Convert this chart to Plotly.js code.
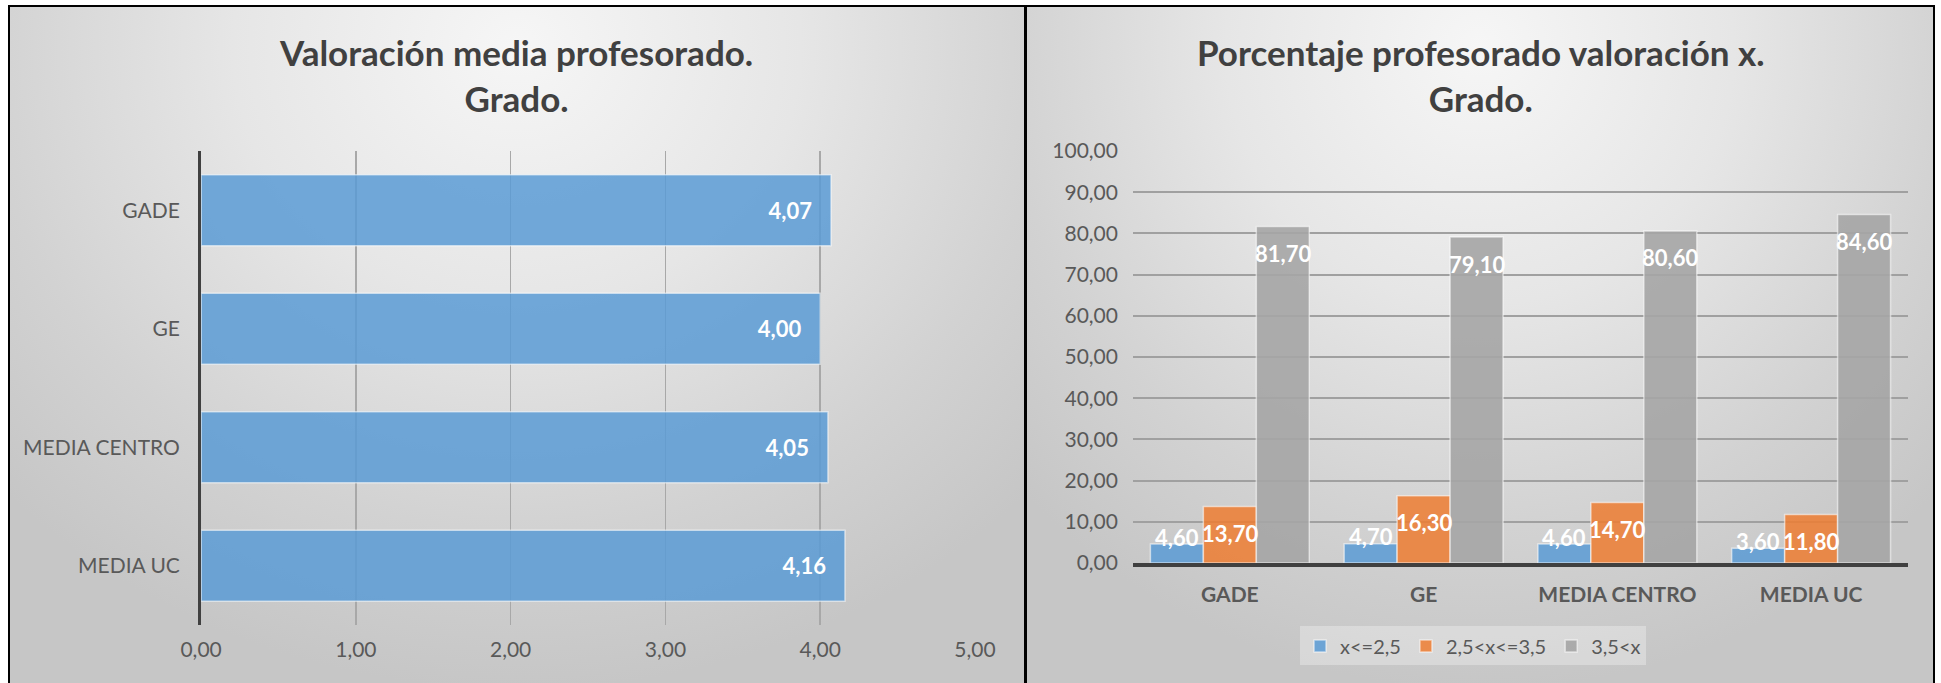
<!DOCTYPE html>
<html>
<head>
<meta charset="utf-8">
<script src="https://cdn.plot.ly/plotly-3.0.1.min.js"></script>
<style>
  html, body { margin: 0; padding: 0; background: #ffffff; }
  #frame { position: absolute; left: 8px; top: 5px; width: 1927px; height: 678px; background: #000; }
  .panel { position: absolute; top: 7px; height: 676px;
    background: radial-gradient(ellipse 70% 95% at 50% 6%, #f6f6f6 0%, #e6e6e6 40%, #d2d2d2 75%, #c6c6c6 100%); }
  #pl { left: 10px; width: 1014px; }
  #pr { left: 1027px; width: 906px; }
  #chart { position: absolute; left: 0; top: 0; width: 1941px; height: 683px; }
</style>
</head>
<body>
<div id="frame"></div>
<div class="panel" id="pl"></div>
<div class="panel" id="pr"></div>
<div id="chart"></div>
<script>
// ---- data ----
const categories = ["GADE", "GE", "MEDIA CENTRO", "MEDIA UC"];
const mediaValues = [4.07, 4.00, 4.05, 4.16];
const seriesNames = ["x<=2,5", "2,5<x<=3,5", "3,5<x"];
const pctLow = [4.60, 4.70, 4.60, 3.60];
const pctMid = [13.70, 16.30, 14.70, 11.80];
const pctHigh = [81.70, 79.10, 80.60, 84.60];
const leftTitle = "Valoración media profesorado.<br>Grado.";
const rightTitle = "Porcentaje profesorado valoración x.<br>Grado.";

const FONT = "Lato, 'Open Sans', sans-serif";
const NB = "\u00a0";
const blue = "rgba(91,155,213,0.85)";
const orange = "rgba(237,125,49,0.85)";
const gray = "rgba(165,165,165,0.9)";
const barLine = { color: "rgba(255,255,255,0.55)", width: 1.5 };
const W = 1941, H = 683;
const x2Domain = [0.5837, 0.983];
const BARGAP = 0.18;

const traces = [
  {
    type: "bar", orientation: "h", y: categories, x: mediaValues,
    xaxis: "x", yaxis: "y", width: 0.6, showlegend: false,
    marker: { color: blue, line: barLine },
    texttemplate: "%{x:.2f}" + NB + NB + NB,
    textposition: "inside", insidetextanchor: "end", textangle: 0, constraintext: "none",
    textfont: { family: FONT, size: 22, color: "#ffffff", weight: "bold" },
    hoverinfo: "skip"
  },
  { type: "bar", name: seriesNames[0], x: categories, y: pctLow, xaxis: "x2", yaxis: "y2",
    marker: { color: blue, line: barLine } },
  { type: "bar", name: seriesNames[1], x: categories, y: pctMid, xaxis: "x2", yaxis: "y2",
    marker: { color: orange, line: barLine } },
  { type: "bar", name: seriesNames[2], x: categories, y: pctHigh, xaxis: "x2", yaxis: "y2",
    marker: { color: gray, line: barLine } }
];

// data labels for the grouped chart, placed through the x2/y2 axes
const catPx = (x2Domain[1] - x2Domain[0]) * W / categories.length;
const barPx = catPx * (1 - BARGAP) / 3;
const labelSeries = [
  { vals: pctLow, off: -1, yshift: 7 },
  { vals: pctMid, off: 0, yshift: -27 },
  { vals: pctHigh, off: 1, yshift: -27 }
];
const fmt = v => v.toFixed(2).replace(".", ",");
const labelAnn = [];
labelSeries.forEach(s => {
  s.vals.forEach((v, i) => {
    labelAnn.push({
      xref: "x2", yref: "y2", x: categories[i], y: v,
      xshift: s.off * barPx, yshift: s.yshift,
      xanchor: "center", yanchor: "middle", showarrow: false,
      text: fmt(v),
      font: { family: FONT, size: 22, color: "#ffffff", weight: "bold" }
    });
  });
});

const tickFont = { family: FONT, size: 21, color: "#595959" };

const layout = {
  width: W, height: H,
  margin: { l: 0, r: 0, t: 0, b: 0 },
  paper_bgcolor: "rgba(0,0,0,0)", plot_bgcolor: "rgba(0,0,0,0)",
  separators: ",.",
  font: { family: FONT, color: "#595959" },
  barmode: "group", bargap: BARGAP, bargroupgap: 0,
  showlegend: true,
  xaxis: {
    domain: [0.1036, 0.5023], anchor: "y", range: [0, 5], dtick: 1, tickformat: ".2f",
    showgrid: true, gridcolor: "#a8a8a8", gridwidth: 1.5, zeroline: false, showline: false,
    ticks: "", ticklabelstandoff: 10, tickfont: tickFont, fixedrange: true
  },
  yaxis: {
    domain: [0.0849, 0.7789], anchor: "x", type: "category",
    categoryorder: "array", categoryarray: categories, autorange: "reversed",
    showgrid: false, zeroline: false, showline: true, linecolor: "#404040", linewidth: 3,
    ticks: "", ticklabelstandoff: 14, tickfont: tickFont, fixedrange: true
  },
  xaxis2: {
    domain: x2Domain, anchor: "y2", type: "category",
    showgrid: false, zeroline: false, showline: true, linecolor: "#404040", linewidth: 4,
    ticks: "", ticklabelstandoff: 10,
    tickfont: { family: FONT, size: 21, color: "#595959", weight: "bold" }, fixedrange: true
  },
  yaxis2: {
    domain: [0.1757, 0.7789], anchor: "x2", range: [0, 100], dtick: 10, tickformat: ".2f",
    showgrid: true, gridcolor: "#a0a0a0", gridwidth: 2, zeroline: false, showline: false,
    ticks: "", ticklabelstandoff: 14, tickfont: tickFont, fixedrange: true
  },
  legend: {
    orientation: "h", x: 0.7589, xanchor: "center", y: 0.0542, yanchor: "middle",
    bgcolor: "rgba(255,255,255,0.3)", font: { family: FONT, size: 20, color: "#595959" },
    itemwidth: 30, tracegroupgap: 0
  },
  annotations: [
    { text: leftTitle, xref: "paper", yref: "paper", x: 0.2658, y: 0.8902,
      xanchor: "center", yanchor: "middle", showarrow: false,
      font: { family: FONT, size: 35, color: "#404040", weight: "bold" } },
    { text: rightTitle, xref: "paper", yref: "paper", x: 0.763, y: 0.8902,
      xanchor: "center", yanchor: "middle", showarrow: false,
      font: { family: FONT, size: 35, color: "#404040", weight: "bold" } }
  ].concat(labelAnn)
};

Plotly.newPlot("chart", traces, layout, { staticPlot: true, displayModeBar: false });
</script>
</body>
</html>
